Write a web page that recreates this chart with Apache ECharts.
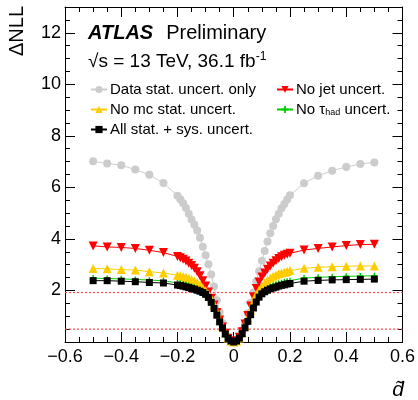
<!DOCTYPE html>
<html>
<head>
<meta charset="utf-8">
<script src="https://cdn.jsdelivr.net/npm/echarts@6/dist/echarts.min.js"></script>
<style>
  html, body { margin: 0; padding: 0; background: #fff; }
  #nll-chart { width: 418px; height: 400px; }
</style>
</head>
<body>
<div id="nll-chart"></div>
<script>
// scan points in d-tilde
const dTilde = [
  -0.5, -0.45, -0.4, -0.35, -0.3, -0.25,
  -0.2, -0.19, -0.18, -0.17, -0.16, -0.15, -0.14, -0.13, -0.12, -0.11,
  -0.1, -0.09, -0.08, -0.07, -0.06, -0.05, -0.04, -0.03, -0.02, -0.01,
  0,
  0.01, 0.02, 0.03, 0.04, 0.05, 0.06, 0.07, 0.08, 0.09, 0.1,
  0.11, 0.12, 0.13, 0.14, 0.15, 0.16, 0.17, 0.18, 0.19, 0.2,
  0.25, 0.3, 0.35, 0.4, 0.45, 0.5
];

const dataStatOnly = [
  7.01, 6.93, 6.86, 6.69, 6.49, 6.17,
  5.68, 5.54, 5.38, 5.20, 4.98, 4.75, 4.55, 4.33, 4.05, 3.70,
  3.37, 3.02, 2.62, 2.15, 1.62, 1.15, 0.74, 0.41, 0.18, 0.04,
  0,
  0.04, 0.18, 0.42, 0.74, 1.12, 1.52, 1.92, 2.35, 2.75, 3.15,
  3.53, 3.90, 4.22, 4.50, 4.76, 4.98, 5.19, 5.36, 5.53, 5.69,
  6.16, 6.45, 6.65, 6.79, 6.91, 6.97
];

const noJet = [
  3.73, 3.69, 3.67, 3.63, 3.56, 3.47,
  3.32, 3.27, 3.21, 3.14, 3.06, 2.97, 2.86, 2.73, 2.57, 2.38,
  2.17, 1.94, 1.70, 1.44, 1.14, 0.85, 0.58, 0.34, 0.15, 0.04,
  0,
  0.04, 0.18, 0.40, 0.70, 1.03, 1.40, 1.76, 2.08, 2.33, 2.52,
  2.68, 2.82, 2.95, 3.06, 3.15, 3.24, 3.31, 3.37, 3.41, 3.44,
  3.57, 3.63, 3.69, 3.74, 3.78, 3.79
];

const noMcStat = [
  2.85, 2.84, 2.81, 2.79, 2.73, 2.68,
  2.59, 2.57, 2.54, 2.51, 2.47, 2.43, 2.38, 2.31, 2.22, 2.11,
  1.99, 1.86, 1.70, 1.45, 1.16, 0.86, 0.59, 0.35, 0.16, 0.04,
  0,
  0.04, 0.16, 0.36, 0.62, 0.92, 1.24, 1.56, 1.85, 2.02, 2.17,
  2.29, 2.40, 2.48, 2.55, 2.60, 2.65, 2.68, 2.71, 2.74, 2.77,
  2.86, 2.90, 2.92, 2.94, 2.95, 2.95
];

const noTauHad = [
  2.48, 2.46, 2.45, 2.43, 2.40, 2.38,
  2.29, 2.27, 2.25, 2.22, 2.19, 2.16, 2.12, 2.08, 2.03, 1.97,
  1.89, 1.77, 1.58, 1.34, 1.07, 0.81, 0.56, 0.33, 0.15, 0.04,
  0,
  0.04, 0.15, 0.33, 0.57, 0.82, 1.09, 1.36, 1.60, 1.79, 1.92,
  2.01, 2.08, 2.14, 2.19, 2.23, 2.27, 2.30, 2.33, 2.36, 2.38,
  2.48, 2.51, 2.53, 2.55, 2.56, 2.57
];

const allStatSys = [
  2.38, 2.38, 2.36, 2.34, 2.31, 2.29,
  2.21, 2.19, 2.17, 2.14, 2.11, 2.08, 2.05, 2.01, 1.97, 1.92,
  1.85, 1.73, 1.54, 1.30, 1.04, 0.78, 0.54, 0.31, 0.14, 0.04,
  0,
  0.04, 0.15, 0.32, 0.55, 0.80, 1.06, 1.32, 1.55, 1.74, 1.87,
  1.95, 2.01, 2.06, 2.10, 2.13, 2.17, 2.20, 2.22, 2.25, 2.27,
  2.36, 2.39, 2.41, 2.42, 2.43, 2.44
];

// 68% / 95% CL reference levels, drawn across the full x range
const clLevels = [0.5, 1.92];
const clRange = [-0.6, 0.6];

const yTickLabels = [2, 4, 6, 8, 10, 12];

const FONT = "'Liberation Sans', Arial, sans-serif";

function pairs(values) {
  return dTilde.map((x, i) => [x, values[i]]);
}

function makeSeries(name, values, color, symbol, size, extra) {
  return Object.assign({
    name: name,
    type: "line",
    xAxisIndex: 0,
    yAxisIndex: 0,
    data: pairs(values),
    symbol: symbol,
    symbolSize: size,
    showAllSymbol: true,
    smooth: false,
    animation: false,
    lineStyle: { color: color, width: 1 },
    itemStyle: { color: color, borderWidth: 0 },
    emphasis: { disabled: true }
  }, extra || {});
}

function clSeries(level) {
  return {
    name: "CL " + level,
    type: "line",
    xAxisIndex: 0,
    yAxisIndex: 0,
    data: clRange.map(x => [x, level]),
    symbol: "none",
    silent: true,
    animation: false,
    z: 1,
    lineStyle: { color: "#ff4a4a", type: [2, 2], width: 1.2 }
  };
}

const plusPath = "path://M3,0H5V3H8V5H5V8H3V5H0V3H3Z";

function axisCommon(pos) {
  return {
    type: "value",
    position: pos,
    axisLine: { show: true, onZero: false, lineStyle: { color: "#000", width: 1 } },
    axisTick: { show: true, inside: true, length: 10, lineStyle: { color: "#000" } },
    minorTick: { show: true, splitNumber: 4, length: 5, lineStyle: { color: "#000" } },
    splitLine: { show: false },
    minorSplitLine: { show: false }
  };
}

const chart = echarts.init(document.getElementById("nll-chart"), null, { renderer: "canvas" });

const option = {
  backgroundColor: "#fff",
  animation: false,
  grid: { left: 65, right: 14, top: 7, bottom: 58, containLabel: false },
  xAxis: [
    Object.assign(axisCommon("bottom"), {
      min: -0.6, max: 0.6, interval: 0.2,
      axisLabel: {
        show: true, color: "#000", fontSize: 18, fontFamily: FONT, margin: 6,
        formatter: v => {
          const r = Math.round(v * 10) / 10;
          return r === 0 ? "0" : String(r).replace("-", "\u2212");
        }
      }
    }),
    Object.assign(axisCommon("top"), {
      min: -0.6, max: 0.6, interval: 0.2,
      axisLabel: { show: false }
    })
  ],
  yAxis: [
    Object.assign(axisCommon("left"), {
      min: 0, max: 13, interval: 2,
      axisLabel: {
        show: true, color: "#000", fontSize: 18, fontFamily: FONT, margin: 4,
        formatter: v => (yTickLabels.indexOf(Math.round(v * 100) / 100) >= 0 ? String(v) : "")
      }
    }),
    Object.assign(axisCommon("right"), {
      min: 0, max: 13, interval: 2,
      axisLabel: { show: false }
    })
  ],
  legend: [
    {
      data: ["Data stat. uncert. only", "No mc stat. uncert.", "All stat. + sys. uncert."],
      orient: "vertical",
      left: 90, top: 82, padding: 0,
      itemWidth: 16, itemHeight: 9, itemGap: 5,
      textStyle: { fontSize: 15, fontFamily: FONT, color: "#000", lineHeight: 15, padding: [0, 0, 0, -2] },
      selectedMode: false
    },
    {
      data: ["No jet uncert.", "No \u03c4had uncert."],
      orient: "vertical",
      left: 276, top: 82, padding: 0,
      itemWidth: 16, itemHeight: 9, itemGap: 5,
      formatter: name => (name === "No \u03c4had uncert." ? "No \u03c4{s|had} uncert." : name),
      textStyle: {
        fontSize: 15, fontFamily: FONT, color: "#000", lineHeight: 15, padding: [0, 0, 0, -2],
        rich: { s: { fontSize: 9, fontFamily: FONT, color: "#000", padding: [7, 0, 0, 0] } }
      },
      selectedMode: false
    }
  ],
  graphic: [
    {
      type: "text", x: 88, y: 33,
      style: {
        text: "{a|ATLAS}{b|Preliminary}",
        verticalAlign: "middle",
        rich: {
          a: { fontSize: 20, fontWeight: "bold", fontStyle: "italic", fontFamily: FONT, fill: "#000" },
          b: { fontSize: 20, fontFamily: FONT, fill: "#000", padding: [0, 0, 0, 13] }
        }
      }
    },
    {
      type: "text", x: 88, y: 62,
      style: {
        text: "{b|\u221as = 13 TeV, 36.1 fb}{u|-1}",
        verticalAlign: "middle",
        rich: {
          b: { fontSize: 19, fontFamily: FONT, fill: "#000" },
          u: { fontSize: 12, fontFamily: FONT, fill: "#000", padding: [0, 0, 10, 0] }
        }
      }
    },
    {
      type: "text", x: 17, y: 6, rotation: Math.PI / 2,
      style: {
        text: "\u0394NLL", fontSize: 20, fontFamily: FONT, fill: "#000",
        align: "right", verticalAlign: "middle"
      }
    },
    {
      type: "text", x: 404, y: 390,
      style: {
        text: "d\u0303", fontSize: 21, fontStyle: "italic", fontFamily: FONT, fill: "#000",
        align: "right", verticalAlign: "middle"
      }
    }
  ],
  series: [
    clSeries(clLevels[0]),
    clSeries(clLevels[1]),
    makeSeries("Data stat. uncert. only", dataStatOnly, "#cccccc", "circle", 8),
    makeSeries("No jet uncert.", noJet, "#ff0000", "triangle", 9, { symbolRotate: 180 }),
    makeSeries("No mc stat. uncert.", noMcStat, "#ffcc00", "triangle", 9),
    makeSeries("No \u03c4had uncert.", noTauHad, "#00cc00", plusPath, 6),
    makeSeries("All stat. + sys. uncert.", allStatSys, "#000000", "rect", 7)
  ]
};

chart.setOption(option);
</script>
</body>
</html>
